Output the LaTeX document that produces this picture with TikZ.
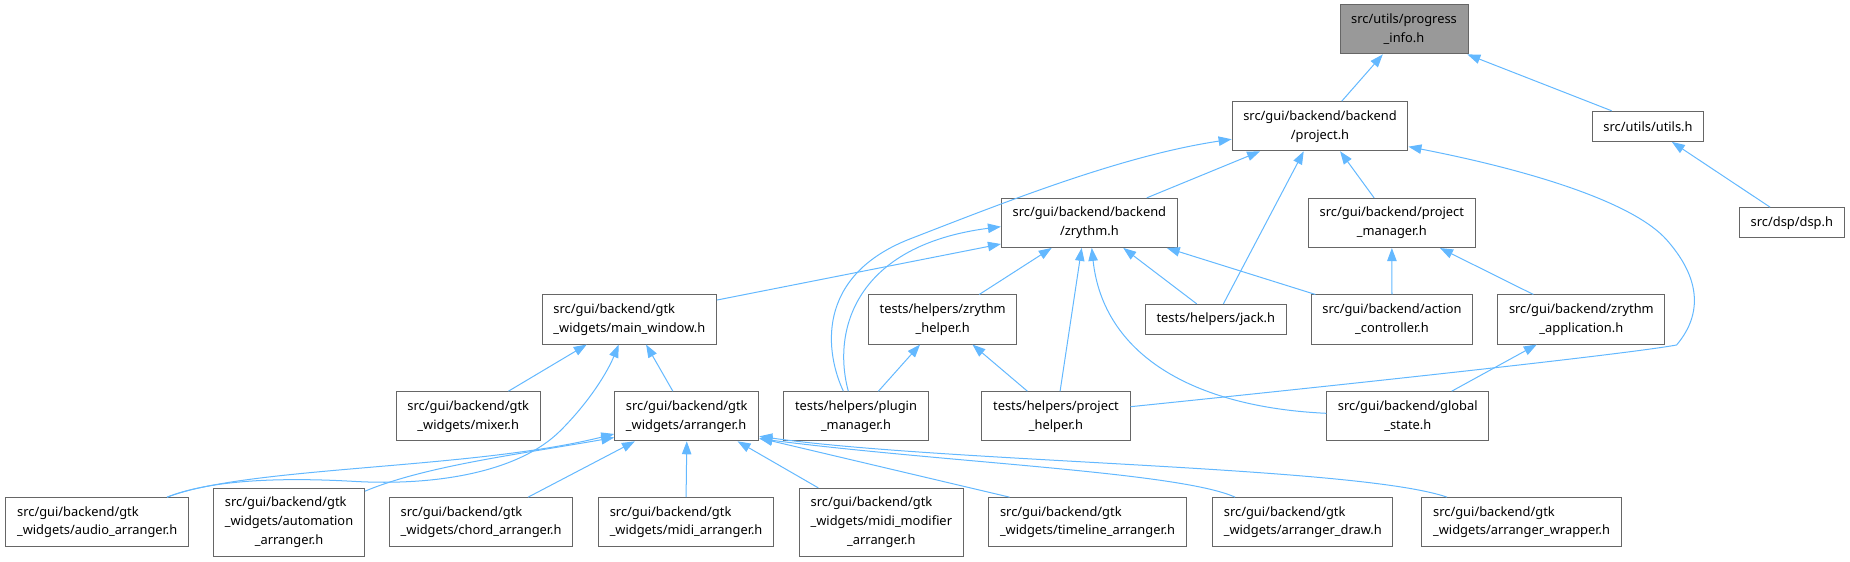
\documentclass[tikz,border=0pt]{standalone}
\usepackage{fontspec}
\setmainfont{Noto Sans}
\usepackage{xcolor}
\usetikzlibrary{arrows.meta}

\definecolor{edgeblue}{HTML}{63B8FF}
\definecolor{boxgray}{HTML}{666666}
\definecolor{rootgray}{HTML}{999999}
\newcommand{\leftln}[2]{\rlap{#1}\phantom{#2}}

\tikzset{
  hdr/.style={draw=boxgray, fill=white, line width=0.85pt, align=center,
    font=\fontsize{10.9}{16}\selectfont, inner xsep=9.5pt, inner ysep=2pt,
    minimum height=41.6pt},
  hdrone/.style={hdr, minimum height=25.5pt},
  hdrthree/.style={hdr, minimum height=57.3pt},
  gtk/.style={hdr, align=left},
  root/.style={hdr, fill=rootgray},
  dep/.style={draw=edgeblue, line width=0.85pt, -{Triangle[length=11pt,width=8pt]}}
}

\begin{document}
\begin{tikzpicture}[x=1pt,y=-1pt]
\useasboundingbox (0,0) rectangle (1568,476.3);
\node[root] (prog) at (1190,24.9) {src/utils/progress\\\_info.h};
\node[hdr] (project) at (1118.8,107) {src/gui/backend/backend\\/project.h};
\node[hdrone] (utils) at (1396.8,107.1) {src/utils/utils.h};
\node[hdrone] (dsp) at (1518.7,188.8) {src/dsp/dsp.h};
\node[hdr] (zrythm) at (923.3,188.9) {src/gui/backend/backend\\/zrythm.h};
\node[hdr] (projmgr) at (1179.7,189) {src/gui/backend/project\\\_manager.h};
\node[gtk] (mainwin) at (533.4,270.8) {src/gui/backend/gtk\\\_widgets/main\_window.h};
\node[hdr] (zhelper) at (799,270.8) {tests/helpers/zrythm\\\_helper.h};
\node[hdrone] (jack) at (1030.5,270.7) {tests/helpers/jack.h};
\node[hdr] (actctl) at (1179.8,270.8) {src/gui/backend/action\\\_controller.h};
\node[hdr] (zapp) at (1340.3,270.8) {src/gui/backend/zrythm\\\_application.h};
\node[hdr] (mixer) at (396.9,352.8) {src/gui/backend/gtk\\\_widgets/mixer.h};
\node[gtk] (arranger) at (582.1,352.8) {src/gui/backend/gtk\\\_widgets/arranger.h};
\node[hdr] (plugmgr) at (725.5,352.8) {tests/helpers/plugin\\\_manager.h};
\node[hdr] (projhelp) at (895,352.8) {tests/helpers/project\\\_helper.h};
\node[hdr] (globst) at (1193.2,352.8) {src/gui/backend/global\\\_state.h};
\node[gtk] (audio) at (82.4,442.6) {src/gui/backend/gtk\\\_widgets/audio\_arranger.h};
\node[hdrthree] (autom) at (245,442.6) {\leftln{src/gui/backend/gtk}{\_widgets/automation}\\\_widgets/automation\\\_arranger.h};
\node[gtk] (chord) at (407.8,442.6) {src/gui/backend/gtk\\\_widgets/chord\_arranger.h};
\node[gtk] (midi) at (581.5,442.6) {src/gui/backend/gtk\\\_widgets/midi\_arranger.h};
\node[hdrthree] (midimod) at (747,442.6) {\leftln{src/gui/backend/gtk}{\_widgets/midi\_modifier}\\\_widgets/midi\_modifier\\\_arranger.h};
\node[gtk] (timeline) at (921.8,442.6) {src/gui/backend/gtk\\\_widgets/timeline\_arranger.h};
\node[gtk] (adraw) at (1104.2,442.6) {src/gui/backend/gtk\\\_widgets/arranger\_draw.h};
\node[gtk] (awrap) at (1289.6,442.6) {src/gui/backend/gtk\\\_widgets/arranger\_wrapper.h};

\draw[dep] ([xshift=18.4pt]project.north) -- ([xshift=-18pt]prog.south);
\draw[dep] ([xshift=-30.8pt]utils.north) -- ([xshift=-1pt]prog.south east);
\draw[dep] ([xshift=-18.4pt]dsp.north) -- ([xshift=20.2pt]utils.south);
\draw[dep] ([xshift=48.7pt]zrythm.north) -- ([xshift=-50.8pt]project.south);
\draw[dep] ([xshift=-15pt]projmgr.north) -- ([xshift=17pt]project.south);
\draw[dep] ([xshift=6.4pt]jack.north) -- ([xshift=-13.8pt]project.south);
\draw[dep] ([xshift=-10.7pt]plugmgr.north) .. controls (700,300) and (690,235) .. (770,203)
  .. controls (850,172) and (950,132) .. ([yshift=-11pt]project.west);
\draw[dep] ([yshift=8.1pt]projhelp.east) .. controls (1150,325) and (1380,300) .. (1421,292.4)
  .. controls (1440,270) and (1445,240) .. (1412.7,203.4)
  .. controls (1385,172) and (1300,145) .. ([yshift=-17.3pt]project.east);
\draw[dep] ([xshift=-6.5pt]plugmgr.north) .. controls (705,280) and (725,208) .. ([yshift=-3.2pt]zrythm.west);
\draw[dep] ([yshift=16.5pt]mainwin.east) -- ([yshift=-17.9pt]zrythm.west);
\draw[dep] ([xshift=31pt]zhelper.north) -- ([xshift=-31.9pt]zrythm.south);
\draw[dep] ([xshift=3.5pt]projhelp.north) -- ([xshift=-6.5pt]zrythm.south);
\draw[dep] ([yshift=2.5pt]globst.west) .. controls (1010,345) and (935,300) .. ([xshift=2pt]zrythm.south);
\draw[dep] ([xshift=-16.2pt]jack.north) -- ([xshift=28.7pt]zrythm.south);
\draw[dep] ([xshift=4pt]actctl.north west) -- ([xshift=65.6pt]zrythm.south);
\draw[dep] (actctl.north) -- (projmgr.south);
\draw[dep] ([xshift=-40.7pt]zapp.north) -- ([xshift=40.8pt]projmgr.south);
\draw[dep] ([xshift=37.2pt]globst.north) -- ([xshift=-37.8pt]zapp.south);
\draw[dep] ([xshift=-24.2pt]projhelp.north) -- ([xshift=25.2pt]zhelper.south);
\draw[dep] ([xshift=19pt]plugmgr.north) -- ([xshift=-19.2pt]zhelper.south);
\draw[dep] ([xshift=34pt]mixer.north) -- ([xshift=-36.1pt]mainwin.south);
\draw[dep] ([xshift=-11.8pt]arranger.north) -- ([xshift=14.2pt]mainwin.south);
\draw[dep] ([xshift=59.2pt]audio.north) .. controls (175,408) and (230,404) .. (300,408)
  .. controls (370,412) and (440,400) .. (475,365)
  .. controls (500,340) and (515,315) .. ([xshift=-9pt]mainwin.south);
\draw[dep] ([xshift=59.2pt]audio.north) .. controls (210,395) and (400,398) .. ([yshift=-15pt]arranger.west);
\draw[dep] ([yshift=-2.8pt]autom.north east) .. controls (360,395) and (440,385) .. ([yshift=-18pt]arranger.west);
\draw[dep] ([xshift=39.8pt]chord.north) -- ([xshift=-44pt]arranger.south);
\draw[dep] (midi.north) -- (arranger.south);
\draw[dep] ([xshift=-53.4pt]midimod.north) -- ([xshift=43pt]arranger.south);
\draw[dep] ([xshift=-66.1pt]timeline.north) -- ([yshift=-18.5pt]arranger.east);
\draw[dep] ([xshift=-57.4pt]adraw.north) .. controls (1000,400) and (800,392) .. ([yshift=-19pt]arranger.east);
\draw[dep] ([xshift=-63.1pt]awrap.north) .. controls (1150,395) and (800,392) .. ([yshift=-17pt]arranger.east);
\end{tikzpicture}
\end{document}
